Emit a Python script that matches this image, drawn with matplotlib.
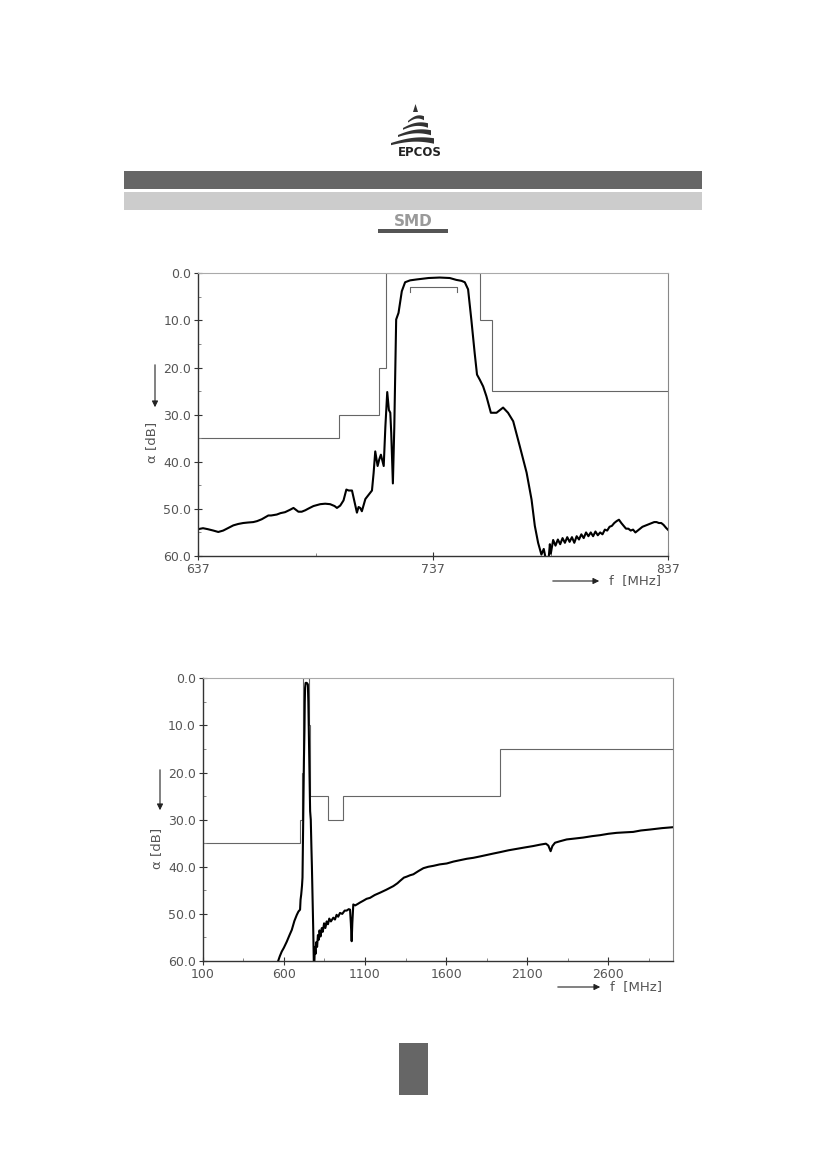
import numpy as np
import matplotlib
matplotlib.use("Agg")
import matplotlib.pyplot as plt
from matplotlib.patches import Rectangle, Polygon

# ---- data: detail plot (637..837 MHz) ----
f_zoom = [637, 639, 641, 643.4, 645.5, 647.6, 650, 651.9, 654, 656.1, 658, 660.4,
          662, 664, 666.8, 668, 670.4, 672, 673.9, 676, 677.5, 679.6, 681, 682.5,
          684, 686, 688.9, 691, 693.1, 695, 696, 697.4, 698.8, 700, 701, 702.4,
          703.1, 704.5, 705.2, 705.9, 706.6, 708.1, 709.5, 710.9, 711.6, 712.3,
          713.3, 714, 714.7, 715.9, 716.6, 717.4, 718.1, 718.7, 719.1, 719.8,
          720.4, 721, 721.2, 722.2, 723.6, 725, 727.1, 730, 735, 739.7, 744,
          746.8, 749, 750.4, 751.8, 753.2, 754.6, 755.6, 756.8, 758.2, 759.6,
          761.5, 763.9, 766.7, 768.8, 771, 773.8, 776.7, 778.8, 780.2, 781.6,
          783, 784, 785, 786, 786.6, 787, 788, 789, 790, 791, 792, 793, 794, 795,
          796, 797, 798, 799, 800, 801, 802, 803, 804, 805, 806, 807, 808, 809,
          810, 811, 812, 813, 814, 815, 816, 817, 818, 819, 820, 821, 822, 823,
          824, 825, 826, 827, 828, 829, 830, 831, 832, 833, 834, 835, 836, 837]
db_zoom = [54.3, 54.1, 54.3, 54.6, 54.9, 54.6, 54.0, 53.5, 53.2, 53.0, 52.9, 52.8,
           52.6, 52.2, 51.4, 51.4, 51.2, 50.9, 50.7, 50.2, 49.8, 50.6, 50.6, 50.3,
           49.9, 49.4, 49.0, 48.9, 49.0, 49.4, 49.8, 49.3, 48.2, 45.9, 46.1, 46.1,
           47.7, 50.8, 49.6, 49.8, 50.5, 47.9, 47.0, 46.1, 42.4, 37.8, 40.9, 39.5,
           38.5, 40.9, 32.6, 25.2, 29.0, 29.6, 33.9, 44.6, 32.7, 15.0, 9.8, 8.4,
           3.8, 1.9, 1.5, 1.3, 1.0, 0.9, 1.0, 1.4, 1.6, 1.9, 3.4, 9.9, 16.9, 21.5,
           22.6, 24.0, 26.1, 29.6, 29.6, 28.5, 29.6, 31.4, 36.7, 42.3, 48.0, 53.6,
           57.2, 59.7, 58.5, 61.0, 61.0, 57.5, 59.5, 56.6, 57.8, 56.5, 57.5, 56.2,
           57.2, 56.0, 57.0, 56.0, 57.2, 55.8, 56.5, 55.4, 56.2, 55.0, 55.8, 55.0,
           55.8, 54.8, 55.6, 55.0, 55.4, 54.4, 54.6, 53.8, 53.6, 53.0, 52.6, 52.3,
           53.0, 53.6, 54.2, 54.2, 54.6, 54.4, 55.0, 54.6, 54.2, 53.8, 53.6, 53.4,
           53.2, 53.0, 52.8, 52.8, 53.0, 53.0, 53.4, 54.0, 54.5]
mask_zoom_edges = [637, 697, 714, 717, 757, 762, 837]
mask_zoom_levels = [35, 30, 20, 0, 10, 25]
pass_f = [727, 747]
pass_db = 3.0

# ---- data: wide plot (100..3000 MHz) ----
f_wide = [560, 575, 587, 600, 618, 635, 649, 665, 680, 690, 700, 703, 707, 712,
          715, 718, 721, 724, 727, 729, 731, 734, 737, 742, 748, 751, 754, 758,
          762, 766, 770, 773, 777, 781, 785, 788, 791, 795, 800, 805, 810, 815,
          820, 826, 834, 840, 848, 856, 864, 872, 880, 890, 905, 915, 925, 935,
          946, 960, 975, 987, 1000, 1008, 1013, 1018, 1022, 1028, 1040, 1055,
          1069, 1090, 1110, 1131, 1160, 1193, 1230, 1275, 1300, 1316, 1340, 1357,
          1378, 1398, 1430, 1460, 1490, 1522, 1560, 1604, 1645, 1686, 1728, 1768,
          1810, 1850, 1890, 1932, 1985, 2035, 2085, 2137, 2180, 2215, 2230, 2244,
          2255, 2271, 2300, 2343, 2395, 2445, 2500, 2548, 2600, 2651, 2700, 2753,
          2800, 2856, 2930, 3000]
db_wide = [60.5, 59.0, 58.0, 57.2, 55.9, 54.5, 53.4, 51.5, 50.2, 49.5, 49.1, 47.0,
           45.9, 44.0, 42.3, 34.0, 25.4, 17.0, 11.2, 5.0, 2.0, 1.0, 0.95, 1.0, 1.3,
           5.0, 11.2, 20.0, 28.2, 30.0, 36.0, 40.0, 46.6, 53.0, 61.0, 60.5, 57.0,
           58.5, 56.0, 57.0, 54.5, 55.5, 53.5, 54.8, 53.0, 53.8, 52.0, 53.0, 51.6,
           52.2, 51.0, 51.6, 50.8, 51.2, 50.2, 50.6, 49.8, 50.0, 49.3, 49.3, 49.0,
           49.1, 52.0, 55.8, 52.0, 48.0, 48.2, 47.9, 47.6, 47.2, 46.8, 46.6, 46.0,
           45.5, 44.9, 44.1, 43.5, 43.0, 42.3, 42.1, 41.8, 41.6, 40.9, 40.3, 40.0,
           39.8, 39.5, 39.3, 38.9, 38.6, 38.3, 38.1, 37.8, 37.5, 37.2, 36.9, 36.5,
           36.2, 35.9, 35.6, 35.3, 35.1, 35.5, 36.7, 35.6, 34.9, 34.6, 34.2, 34.0,
           33.8, 33.5, 33.3, 33.0, 32.8, 32.7, 32.6, 32.3, 32.1, 31.8, 31.6]
mask_wide_edges = [100, 697, 714, 717, 757, 762, 870, 965, 1930, 3000]
mask_wide_levels = [35, 30, 20, 0, 10, 25, 30, 25, 15]

W, H = 826, 1169
fig = plt.figure(figsize=(W / 100, H / 100), dpi=100)

# page furniture drawn in pixel coordinates
page = fig.add_axes([0, 0, 1, 1])
page.set_xlim(0, W)
page.set_ylim(H, 0)
page.axis("off")

page.add_patch(Rectangle((124, 171), 578, 18, color="#666666", lw=0))
page.add_patch(Rectangle((124, 192), 578, 18, color="#cccccc", lw=0))
page.add_patch(Rectangle((399, 1043), 29, 52, color="#666666", lw=0))

# EPCOS logo: small tip plus curved bands sweeping to the lower left
page.add_patch(Polygon([(413, 112), (415.5, 104), (418, 112)], color="#333333", lw=0))
for y0, xl, xr, th in [(118, 408, 424, 4), (125, 403, 428, 4.5),
                       (132, 398, 431, 5), (140, 391, 434, 5.5)]:
    t = np.linspace(0, 1, 20)
    xs = xl + (xr - xl) * t
    top = y0 - 3 * np.sin(np.pi * t * 0.8) + 3 * (1 - t) ** 2
    bot = top + th * (0.4 + 0.6 * t)
    pts = list(zip(xs, top)) + list(zip(xs[::-1], bot[::-1]))
    page.add_patch(Polygon(pts, color="#333333", lw=0))
page.text(419.5, 153, "EPCOS", ha="center", va="center", fontsize=8.5,
          fontweight="bold", color="#222222")

# SMD badge
page.add_patch(Rectangle((378, 229), 70, 4, color="#555555", lw=0))
page.text(413, 222, "SMD", ha="center", va="center", fontsize=11,
          fontweight="heavy", color="#9a9a9a")


def setup(ax, xlim, xmaj, xmin):
    ax.set_xlim(*xlim)
    ax.set_ylim(60, 0)
    ax.set_xticks(xmaj)
    ax.set_xticks(xmin, minor=True)
    ax.set_xticklabels([str(v) for v in xmaj])
    ax.set_yticks(range(0, 61, 10))
    ax.set_yticks(range(5, 60, 10), minor=True)
    ax.set_yticklabels(["%.1f" % v for v in range(0, 61, 10)])
    ax.tick_params(which="major", direction="inout", length=6, width=0.8,
                   color="#333333", labelsize=9, labelcolor="#555555", pad=2)
    ax.tick_params(which="minor", direction="in", length=2.5, width=0.7,
                   color="#888888")
    for s in ("left", "bottom"):
        ax.spines[s].set_color("#333333")
        ax.spines[s].set_linewidth(1.0)
    ax.spines["top"].set_color("#aaaaaa")
    ax.spines["right"].set_color("#888888")


ax1 = fig.add_axes([198.3 / W, 1 - 556 / H, 470 / W, 282.7 / H])
setup(ax1, (637, 837), [637, 737, 837], [687, 787])
ax1.stairs(mask_zoom_levels, mask_zoom_edges, baseline=None, color="#666666", lw=0.8)
ax1.plot([pass_f[0], pass_f[0], pass_f[1], pass_f[1]],
         [pass_db + 1, pass_db, pass_db, pass_db + 1], color="#666666", lw=0.8)
ax1.plot(f_zoom, db_zoom, color="black", lw=1.5)

ax2 = fig.add_axes([202.7 / W, 1 - 961 / H, 470.6 / W, 282.7 / H])
setup(ax2, (100, 3000), list(range(100, 3000, 500)), list(range(350, 3000, 500)))
ax2.stairs(mask_wide_levels, mask_wide_edges, baseline=None, color="#666666", lw=0.8)
ax2.plot(f_wide, db_wide, color="black", lw=1.5)

# axis captions with arrows
for (ax_y0, ax_y1, ty, tx), (bx0, bx1, by) in [((362, 410, 442, 152), (550, 602, 581)),
                                               ((767, 813, 848, 157), (555, 603, 987))]:
    page.annotate("", xy=(tx + 3, ax_y1), xytext=(tx + 3, ax_y0),
                  arrowprops=dict(arrowstyle="-|>", color="#222222", lw=0.8,
                                  mutation_scale=9))
    page.text(tx, ty, "α [dB]", rotation=90, ha="center", va="center",
              fontsize=9.5, color="#555555")
    page.annotate("", xy=(bx1, by), xytext=(bx0, by),
                  arrowprops=dict(arrowstyle="-|>", color="#222222", lw=0.8,
                                  mutation_scale=9))
    page.text(bx1 + 7, by, "f  [MHz]", ha="left", va="center", fontsize=9.5,
              color="#555555")

fig.savefig("out.png", dpi=100)
